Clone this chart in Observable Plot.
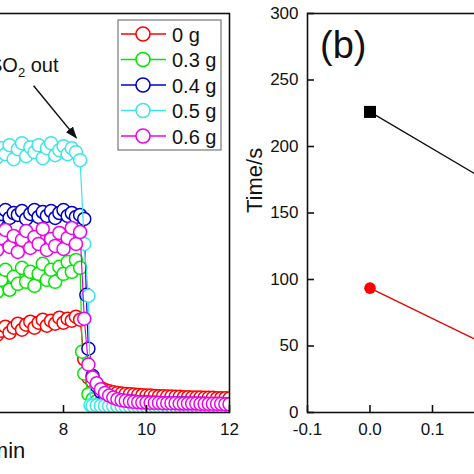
<!DOCTYPE html>
<html><head><meta charset="utf-8">
<script src="https://cdn.jsdelivr.net/npm/d3@7"></script>
<script src="https://cdn.jsdelivr.net/npm/@observablehq/plot@0.6"></script>
<style>
body{margin:0;background:#fff;}
#wrap{position:relative;width:474px;height:474px;overflow:hidden;background:#fff;}
#wrap > svg{position:absolute;top:0;max-width:none !important;}
</style></head><body><div id="wrap"></div>
<script>
// ---------- Panel (a): outlet concentration vs time ----------
const seriesLabels = ["0 g", "0.3 g", "0.4 g", "0.5 g", "0.6 g"];
const seriesColors = ["#ff0000", "#00e600", "#0000c8", "#3ae6e6", "#ee00ee"];
const plateauTimes = [6.2, 6.3, 6.4, 6.5, 6.6, 6.7, 6.8, 6.9, 7.0, 7.1, 7.2, 7.3, 7.4, 7.5, 7.6, 7.7, 7.8, 7.9, 8.0, 8.1, 8.2, 8.3, 8.4];
const tailTimes = [8.8, 8.9, 9.0, 9.1, 9.2, 9.3, 9.4, 9.5, 9.6, 9.7, 9.8, 9.9, 10.0, 10.1, 10.2, 10.3, 10.4, 10.5, 10.6, 10.7, 10.8, 10.9, 11.0, 11.1, 11.2, 11.3, 11.4, 11.5, 11.6, 11.7, 11.8, 11.9, 12.0];

const plateau0 = [240, 252, 234, 246, 258, 240, 255, 267, 249, 264, 273, 255, 270, 279, 261, 276, 267, 285, 270, 282, 276, 288, 279];
const drop0 = [[8.5, 160], [8.6, 105], [8.7, 92]];
const tail0 = [82, 74, 68, 64, 61, 59, 57, 56, 55, 54, 53, 52, 51, 51, 50, 49, 49, 48, 48, 47, 47, 46, 46, 45, 45, 45, 44, 44, 44, 43, 43, 43, 42];

const plateau03 = [378, 417, 363, 399, 429, 369, 408, 387, 435, 393, 423, 381, 417, 447, 399, 429, 393, 438, 417, 453, 423, 459, 435];
const drop03 = [[8.45, 183], [8.5, 117], [8.6, 55], [8.7, 40]];
const tail03 = [34, 31, 29, 27, 26, 25, 24, 24, 23, 23, 22, 22, 22, 21, 21, 21, 21, 20, 20, 20, 20, 20, 19, 19, 19, 19, 19, 19, 18, 18, 18, 18, 18];

const plateau04 = [591, 603, 579, 597, 609, 585, 600, 594, 606, 582, 597, 609, 588, 603, 591, 606, 585, 600, 609, 591, 600, 588, 594];
const drop04 = [[8.5, 582], [8.55, 354], [8.6, 192], [8.7, 110]];
const tail04 = [80, 62, 52, 46, 41, 38, 36, 34, 33, 32, 31, 30, 30, 29, 29, 28, 28, 28, 27, 27, 27, 27, 26, 26, 26, 26, 26, 25, 25, 25, 25, 25, 25];

const plateau05 = [789, 807, 768, 795, 777, 804, 762, 792, 810, 771, 798, 783, 804, 765, 795, 810, 774, 789, 801, 777, 795, 783, 759];
const drop05 = [[8.5, 507], [8.6, 351], [8.65, 22], [8.7, 20]];
const tail05 = [21, 20, 20, 19, 19, 19, 19, 18, 18, 18, 18, 18, 18, 18, 18, 18, 18, 18, 18, 18, 18, 18, 18, 18, 18, 18, 18, 18, 18, 18, 18, 18, 18];

const plateau06 = [513, 537, 489, 525, 549, 498, 531, 483, 519, 546, 495, 528, 507, 552, 489, 522, 501, 540, 492, 525, 555, 507, 543];
const drop06 = [[8.5, 282], [8.6, 144], [8.7, 105]];
const tail06 = [88, 70, 59, 51, 45, 40, 37, 35, 33, 32, 31, 30, 30, 29, 29, 29, 28, 28, 28, 28, 27, 27, 27, 27, 27, 26, 26, 26, 26, 26, 26, 25, 25];

const xTicksA = [8, 10, 12];
const annotationText = ["SO", "2", " out"];
const arrowA = [{x1: 7.28, y1: 983, x2: 8.31, y2: 826}];

// ---------- Panel (b): time vs mass ----------
const massB = [0, 0.3];
const timeSquare = [226, 143];
const timeCircle = [93.5, 25];
const xTicksB = [-0.1, 0.0, 0.1];
const yTicksB = [0, 50, 100, 150, 200, 250, 300];

const FONT = "'Liberation Sans', Arial, sans-serif";

const parts = [
  [plateau0, drop0, tail0], [plateau03, drop03, tail03], [plateau04, drop04, tail04],
  [plateau05, drop05, tail05], [plateau06, drop06, tail06]
];
const rowsA = seriesLabels.map((s, k) => {
  const [p, d, t] = parts[k];
  return [
    ...plateauTimes.map((x, i) => ({x, y: p[i], s})),
    ...d.map(([x, y]) => ({x, y, s})),
    ...tailTimes.map((x, i) => ({x, y: t[i], s}))
  ];
});

const baseStyle = {fontFamily: FONT, fontSize: "17px", color: "#111", background: "transparent", overflow: "visible"};

const left = Plot.plot({
  width: 578, height: 474,
  marginLeft: 60, marginRight: 20, marginTop: 13, marginBottom: 62,
  style: baseStyle,
  x: {domain: [0, 12]},
  y: {domain: [0, 1200], axis: null},
  color: {domain: seriesLabels, range: seriesColors},
  marks: [
    ...rowsA.flatMap((rows) => [
      Plot.line(rows, {x: "x", y: "y", stroke: "s", strokeWidth: 1.2, clip: true}),
      Plot.dot(rows, {x: "x", y: "y", stroke: "s", fill: "white", r: 6.5, strokeWidth: 1.5, clip: true})
    ]),
    Plot.link(arrowA, {x1: "x1", y1: "y1", x2: "x2", y2: "y2", stroke: "#111", strokeWidth: 1.5}),
    Plot.frame({stroke: "#111", strokeWidth: 1.6}),
    Plot.axisX({ticks: xTicksA, tickSize: 7, dy: -7, tickFormat: () => "", stroke: "#111", strokeWidth: 1.6, label: null}),
    Plot.axisX({ticks: xTicksA, tickSize: 0, tickPadding: 10, fontSize: 17, label: null}),
    Plot.text(["Time/min"], {frameAnchor: "bottom", dy: 38.5, lineAnchor: "middle", fontSize: 22, fill: "#111"})
  ]
});

const right = Plot.plot({
  width: 580, height: 474,
  marginLeft: 60, marginRight: 20, marginTop: 13, marginBottom: 62,
  style: baseStyle,
  x: {domain: [-0.1, 0.7]},
  y: {domain: [0, 300]},
  marks: [
    Plot.line(massB.map((x, i) => ({x, y: timeSquare[i]})), {x: "x", y: "y", stroke: "#111", strokeWidth: 1.3}),
    Plot.dot(massB.map((x, i) => ({x, y: timeSquare[i]})), {x: "x", y: "y", symbol: "square", r: 6.8, fill: "#000"}),
    Plot.line(massB.map((x, i) => ({x, y: timeCircle[i]})), {x: "x", y: "y", stroke: "#e60000", strokeWidth: 1.3}),
    Plot.dot(massB.map((x, i) => ({x, y: timeCircle[i]})), {x: "x", y: "y", r: 5.8, fill: "#ff0000"}),
    Plot.frame({stroke: "#111", strokeWidth: 1.6}),
    Plot.axisX({ticks: xTicksB, tickSize: 7, dy: -7, tickFormat: () => "", stroke: "#111", strokeWidth: 1.6, label: null}),
    Plot.axisX({ticks: xTicksB, tickSize: 0, tickPadding: 10, fontSize: 17, tickFormat: (d) => d.toFixed(1), label: null}),
    Plot.axisY({ticks: yTicksB, tickSize: 7, dx: 7, tickFormat: () => "", stroke: "#111", strokeWidth: 1.6, label: null}),
    Plot.axisY({ticks: yTicksB, tickSize: 0, tickPadding: 9, fontSize: 17, label: null}),
    Plot.text(["(b)"], {frameAnchor: "top-left", dx: 12.5, dy: 18, lineAnchor: "top", textAnchor: "start", fontSize: 38, fill: "#111"}),
    Plot.text(["Time/s"], {frameAnchor: "left", dx: -53, rotate: -90, lineAnchor: "middle", fontSize: 22, fill: "#111"})
  ]
});

const wrap = document.getElementById("wrap");
for (const [svg, x, w] of [[left, -329, 578], [right, 247, 580]]) {
  svg.style.left = x + "px";
  svg.style.maxWidth = "none";
  svg.style.width = w + "px";
  svg.style.height = "474px";
}
wrap.appendChild(right);
wrap.appendChild(left);

// filled arrow head on the annotation arrow
const ls = d3.select(left);
ls.append("defs").append("marker")
  .attr("id", "ahead").attr("markerUnits", "userSpaceOnUse")
  .attr("viewBox", "0 0 12 9").attr("refX", 11).attr("refY", 4.5)
  .attr("markerWidth", 12).attr("markerHeight", 9).attr("orient", "auto")
  .append("path").attr("d", "M0,0L12,4.5L0,9Z").attr("fill", "#111");
ls.selectAll('g[aria-label="link"] path').attr("marker-end", "url(#ahead)");

// overlay: legend box and annotation text (panel a)
const ov = d3.select(wrap).append("svg")
  .attr("width", 474).attr("height", 474)
  .style("left", "0px").style("pointer-events", "none")
  .style("font-family", FONT);

const ann = ov.append("text").attr("x", -11).attr("y", 72).attr("font-size", 20).attr("fill", "#111");
ann.append("tspan").text(annotationText[0]);
ann.append("tspan").attr("font-size", 13).attr("dy", 5).text(annotationText[1]);
ann.append("tspan").attr("dy", -5).text(annotationText[2]);

const lg = ov.append("g");
lg.append("rect").attr("x", 118).attr("y", 20).attr("width", 103).attr("height", 130)
  .attr("fill", "white").attr("stroke", "#777").attr("stroke-width", 1.2);
seriesLabels.forEach((lab, i) => {
  const cy = 34 + i * 25.5;
  const g = lg.append("g");
  g.append("line").attr("x1", 121).attr("x2", 166).attr("y1", cy).attr("y2", cy)
    .attr("stroke", seriesColors[i]).attr("stroke-width", 1.3);
  g.append("circle").attr("cx", 143).attr("cy", cy).attr("r", 7)
    .attr("fill", "white").attr("stroke", seriesColors[i]).attr("stroke-width", 1.6);
  g.append("text").attr("x", 172).attr("y", cy + 7.5).attr("font-size", 20).attr("fill", "#111").text(lab);
});
</script>
</body></html>
